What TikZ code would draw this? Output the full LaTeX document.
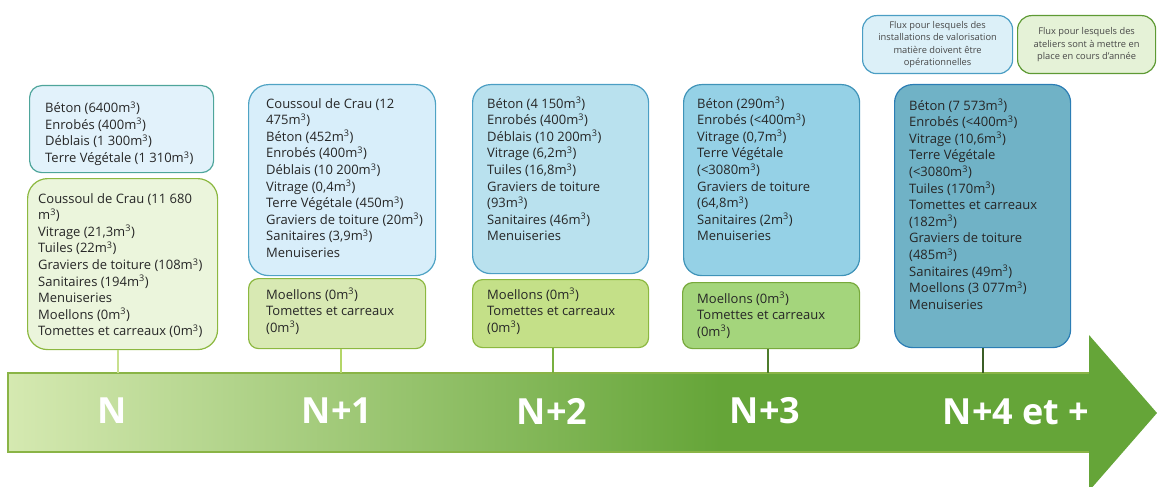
\documentclass[tikz,border=0pt]{standalone}
\usepackage{fontspec}
\setmainfont{Open Sans}
\usepackage{tikz}
\usetikzlibrary{positioning,calc}

\definecolor{inkgray}{HTML}{262626}
\definecolor{arrowlight}{HTML}{D5E9B1}
\definecolor{arrowdark}{HTML}{65A538}
\definecolor{arrowline}{HTML}{8AB446}
\definecolor{blueA}{HTML}{E2F2FB}\definecolor{blueAline}{HTML}{4EA59B}
\definecolor{blueB}{HTML}{D8EEFA}\definecolor{blueBline}{HTML}{4FA3C4}
\definecolor{blueC}{HTML}{B9E1EE}\definecolor{blueCline}{HTML}{4B9EC4}
\definecolor{blueD}{HTML}{95D1E6}\definecolor{blueDline}{HTML}{3F93B8}
\definecolor{blueE}{HTML}{70B2C6}\definecolor{blueEline}{HTML}{2B7DB4}
\definecolor{greenA}{HTML}{EBF5DC}\definecolor{greenAline}{HTML}{8CB840}
\definecolor{greenB}{HTML}{D8E9B3}
\definecolor{greenC}{HTML}{C4E088}
\definecolor{greenD}{HTML}{A4D57C}\definecolor{greenDline}{HTML}{78A93C}
\definecolor{legblue}{HTML}{DCF0F8}
\definecolor{leggreen}{HTML}{E5F2D7}\definecolor{leggreenline}{HTML}{5E9A34}
\definecolor{tickA}{HTML}{C8E08E}
\definecolor{tickB}{HTML}{B4D668}
\definecolor{tickC}{HTML}{78B040}
\definecolor{tickD}{HTML}{4E7C2C}
\definecolor{tickE}{HTML}{3B5E26}

\newcommand\mcube{m\textsuperscript{3}}

\begin{document}
\begin{tikzpicture}[x=1pt,y=-1pt,
  box/.style={draw,line width=1.2pt,rounded corners=14pt,anchor=north west,inner sep=0pt},
  txt/.style={align=left,inner sep=0pt,text=inkgray,font=\fontsize{13}{16.6}\selectfont},
  legend/.style={box,align=center,text=inkgray!85,font=\fontsize{9.3}{12.3}\selectfont},
  tick/.style={line width=2pt},
  year/.style={text=white,font=\bfseries\fontsize{36}{36}\selectfont}]
  \useasboundingbox (0,0) rectangle (1157,487);

  \fill[arrowdark] (8,373) -- (1089,373) -- (1089,335) -- (1157,413)
    -- (1089,491) -- (1089,452) -- (8,452) -- cycle;
  \shade[left color=arrowlight,right color=arrowdark] (8,373) rectangle (720,452);
  \draw[arrowline,line width=1.2pt] (1089,373) -- (8,373) -- (8,452) -- (1089,452);
  \coordinate (axis) at (0,373);

  \node[year] (yr-0) at (112,411) {N};
  \node[year] (yr-1) at (337,411) {N+1};
  \node[year] (yr-2) at (552,411) {N+2};
  \node[year] (yr-3) at (765,411) {N+3};
  \node[year] (yr-4) at (1016,412) {N+4 et +};

  \node[legend,fill=legblue,draw=blueCline,minimum width=150,minimum height=58] (leg-a) at (862,15)
    {Flux pour lesquels des\\installations de valorisation\\matière doivent être\\opérationnelles};
  \node[legend,fill=leggreen,draw=leggreenline,minimum width=138,minimum height=58] (leg-b) at (1017,15)
    {Flux pour lesquels des\\ateliers sont à mettre en\\place en cours d’année};

  \node[box,fill=blueA,draw=blueAline,minimum width=184,minimum height=87,rounded corners=12pt] (hi-0) at (29,85) {};
  \node[box,fill=greenA,draw=greenAline,minimum width=190,minimum height=171,rounded corners=20pt] (lo-0) at (27,178) {};
  \node[box,fill=blueB,draw=blueBline,minimum width=187,minimum height=191,rounded corners=20pt] (hi-1) at (248,84) {};
  \node[box,fill=greenB,draw=greenAline,minimum width=177,minimum height=70,rounded corners=10pt] (lo-1) at (248,278) {};
  \node[box,fill=blueC,draw=blueCline,minimum width=176,minimum height=189,rounded corners=18pt] (hi-2) at (472,84) {};
  \node[box,fill=greenC,draw=greenAline,minimum width=176,minimum height=68,rounded corners=10pt] (lo-2) at (472,279) {};
  \node[box,fill=blueD,draw=blueDline,minimum width=176,minimum height=191,rounded corners=18pt] (hi-3) at (683,84) {};
  \node[box,fill=greenD,draw=greenDline,minimum width=177,minimum height=66,rounded corners=10pt] (lo-3) at (682,282) {};
  \node[box,fill=blueE,draw=blueEline,minimum width=176,minimum height=263,rounded corners=18pt] (hi-4) at (894,84) {};

  \node[txt,below right=16.5pt and 16pt of hi-0.north west] (hi-0-txt)
    {Béton (6400\mcube)\\Enrobés (400\mcube)\\Déblais (1 300\mcube)\\Terre Végétale (1 310\mcube)};
  \node[txt,below right=15pt and 11pt of lo-0.north west] (lo-0-txt)
    {Coussoul de Crau (11 680\\\mcube)\\Vitrage (21,3\mcube)\\Tuiles (22\mcube)\\Graviers de toiture (108\mcube)\\Sanitaires (194\mcube)\\Menuiseries\\Moellons (0\mcube)\\Tomettes et carreaux (0\mcube)};
  \node[txt,below right=14pt and 18pt of hi-1.north west] (hi-1-txt)
    {Coussoul de Crau (12\\475\mcube)\\Béton (452\mcube)\\Enrobés (400\mcube)\\Déblais (10 200\mcube)\\Vitrage (0,4\mcube)\\Terre Végétale (450\mcube)\\Graviers de toiture (20\mcube)\\Sanitaires (3,9\mcube)\\Menuiseries};
  \node[txt,below right=10pt and 18pt of lo-1.north west] (lo-1-txt)
    {Moellons (0\mcube)\\Tomettes et carreaux\\(0\mcube)};
  \node[txt,below right=13pt and 15pt of hi-2.north west] (hi-2-txt)
    {Béton (4 150\mcube)\\Enrobés (400\mcube)\\Déblais (10 200\mcube)\\Vitrage (6,2\mcube)\\Tuiles (16,8\mcube)\\Graviers de toiture\\(93\mcube)\\Sanitaires (46\mcube)\\Menuiseries};
  \node[txt,below right=9pt and 15pt of lo-2.north west] (lo-2-txt)
    {Moellons (0\mcube)\\Tomettes et carreaux\\(0\mcube)};
  \node[txt,below right=13pt and 14pt of hi-3.north west] (hi-3-txt)
    {Béton (290\mcube)\\Enrobés (<400\mcube)\\Vitrage (0,7\mcube)\\Terre Végétale\\(<3080\mcube)\\Graviers de toiture\\(64,8\mcube)\\Sanitaires (2\mcube)\\Menuiseries};
  \node[txt,below right=10pt and 15pt of lo-3.north west] (lo-3-txt)
    {Moellons (0\mcube)\\Tomettes et carreaux\\(0\mcube)};
  \node[txt,below right=15pt and 15pt of hi-4.north west] (hi-4-txt)
    {Béton (7 573\mcube)\\Enrobés (<400\mcube)\\Vitrage (10,6\mcube)\\Terre Végétale\\(<3080\mcube)\\Tuiles (170\mcube)\\Tomettes et carreaux\\(182\mcube)\\Graviers de toiture\\(485\mcube)\\Sanitaires (49\mcube)\\Moellons (3 077\mcube)\\Menuiseries};

  \draw[tick,tickA] ([xshift=-5pt]lo-0.south) -- ([xshift=-5pt]lo-0.south |- axis);
  \draw[tick,tickB] ([xshift=3.5pt]lo-1.south) -- ([xshift=3.5pt]lo-1.south |- axis);
  \draw[tick,tickC] ([xshift=-8pt]lo-2.south) -- ([xshift=-8pt]lo-2.south |- axis);
  \draw[tick,tickD] ([xshift=-3.5pt]lo-3.south) -- ([xshift=-3.5pt]lo-3.south |- axis);
  \draw[tick,tickE] (hi-4.south) -- (hi-4.south |- axis);
\end{tikzpicture}
\end{document}
